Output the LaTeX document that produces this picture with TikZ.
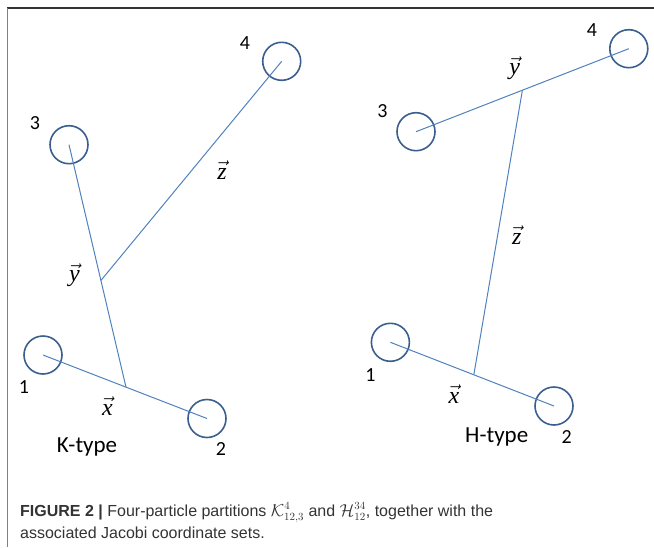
\documentclass[tikz,border=0pt]{standalone}
\usepackage{fontspec}
\setmainfont{Carlito}
\newfontfamily\capfont{Liberation Sans}
\newfontfamily\handfont{Carlito}
\newfontfamily\vecfont{Liberation Serif}
\newcommand{\myvec}[1]{$\vec{\hbox{\vecfont\itshape #1}}$}
\usetikzlibrary{calc}
\definecolor{linec}{HTML}{4F81BD}
\definecolor{circc}{HTML}{3A5F8E}
\definecolor{capc}{HTML}{333333}
\begin{document}
\begin{tikzpicture}[x=1pt,y=-1pt,
  particle/.style={circle,draw=circc,line width=1.6pt,minimum size=38pt,inner sep=0pt},
  bond/.style={draw=linec,line width=1pt},
  num/.style={font=\fontsize{20}{20}\selectfont,text=black,inner sep=0pt},
  vlab/.style={font=\fontsize{24}{24}\selectfont,text=black,inner sep=0pt},
  typelab/.style={font=\handfont\fontsize{23}{23}\selectfont,text=black,inner sep=0pt},
  captext/.style={font=\capfont\fontsize{16}{16}\selectfont,text=capc,inner sep=0pt,anchor=base west}]
\useasboundingbox (0,0) rectangle (654,547);
% frame
\draw[color=capc,line width=1.4pt] (7,8) -- (654,8);
\draw[color=gray,line width=1.8pt] (7.5,8) -- (7.5,547);
% K-type
\node[particle] (k1) at (43,355) {};
\node[particle] (k2) at (207,418.5) {};
\node[particle] (k3) at (69,144.7) {};
\node[particle] (k4) at (281.7,61.3) {};
\path (k1.center) -- (k2.center) coordinate[pos=0.506] (kx);
\path (kx) -- (k3.center) coordinate[pos=0.44] (ky);
\draw[bond] (k1.center) -- (k2.center);
\draw[bond] (kx) -- (k3.center);
\draw[bond] (ky) -- (k4.center);
\node[num] (n4k) at (245,43) {4};
\node[num] (n3k) at (35,123) {3};
\node[num] (n1k) at (24,387) {1};
\node[num] (n2k) at (221,449) {2};
\node[vlab] (zk) at (222,170) {\myvec{z}};
\node[vlab] (yk) at (74.5,275) {\myvec{y}};
\node[vlab] (xk) at (107.5,406) {\myvec{x}};
\node[typelab] (kt) at (87,447) {K-type};
% H-type
\node[particle] (h1) at (390.4,342.3) {};
\node[particle] (h2) at (554,406) {};
\node[particle] (h3) at (416,131.7) {};
\node[particle] (h4) at (628.8,48.7) {};
\path (h1.center) -- (h2.center) coordinate[pos=0.51] (hx);
\path (h3.center) -- (h4.center) coordinate[pos=0.5] (hy);
\draw[bond] (h1.center) -- (h2.center);
\draw[bond] (h3.center) -- (h4.center);
\draw[bond] (hx) -- (hy);
\node[num] (n4h) at (592,30) {4};
\node[num] (n3h) at (382.5,111) {3};
\node[num] (n1h) at (370.4,374.7) {1};
\node[num] (n2h) at (566.7,437) {2};
\node[vlab] (yh) at (514.6,68.3) {\myvec{y}};
\node[vlab] (zh) at (516.7,235) {\myvec{z}};
\node[vlab] (xh) at (454,394) {\myvec{x}};
\node[typelab] (ht) at (496.7,437) {H-type};
% caption
\node[captext] (cap1) at (20,516) {\textbf{FIGURE 2 |} Four-particle partitions $\mathcal{K}^{4}_{12,3}$ and $\mathcal{H}^{34}_{12}$, together with the};
\node[captext] (cap2) at (20,538) {associated Jacobi coordinate sets.};
\end{tikzpicture}
\end{document}
